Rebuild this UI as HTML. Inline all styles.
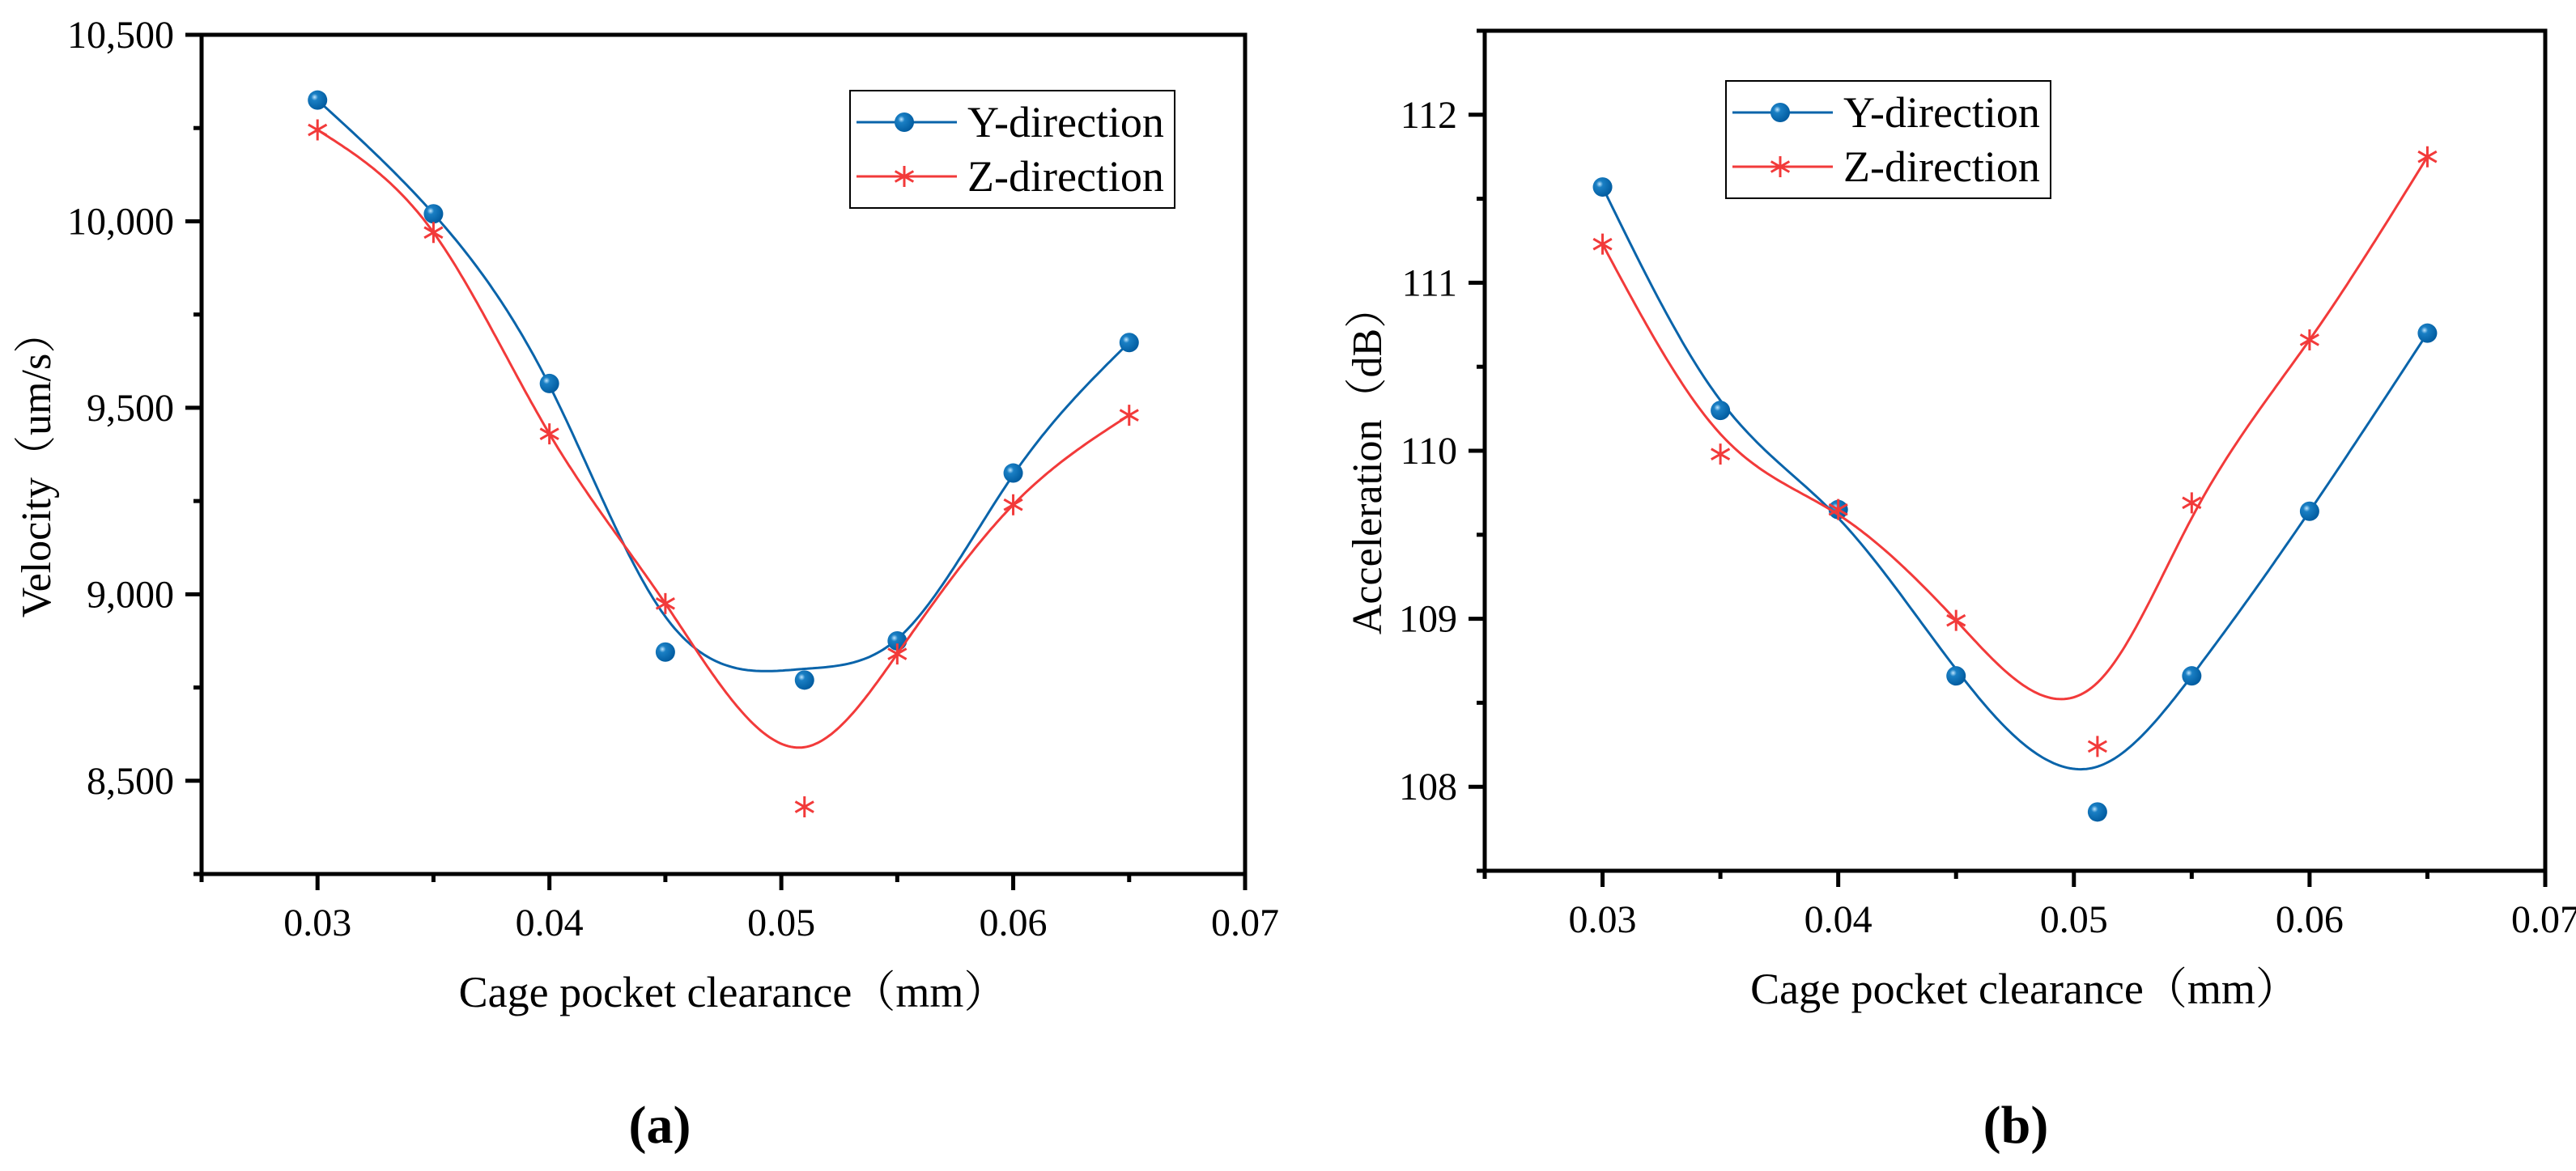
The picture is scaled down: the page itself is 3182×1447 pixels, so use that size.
<!DOCTYPE html>
<html><head><meta charset="utf-8"><style>
html,body{margin:0;padding:0;background:#fff;}
svg{display:block;font-family:"Liberation Serif","Noto Serif CJK SC",serif;}
</style></head><body>
<svg id="fig" width="3182" height="1447" viewBox="0 0 3182 1447" xmlns="http://www.w3.org/2000/svg">
<defs>
<radialGradient id="ball" cx="0.35" cy="0.35" r="0.7">
<stop offset="0" stop-color="#bfe6ff"/><stop offset="0.25" stop-color="#1a7fc4"/><stop offset="1" stop-color="#005a9e"/>
</radialGradient>
</defs>
<g id="chartA"></g>
<g id="chartB"></g>
<text x="815" y="1412" font-size="66" font-weight="bold" text-anchor="middle">(a)</text>
<text x="2490" y="1412" font-size="66" font-weight="bold" text-anchor="middle">(b)</text>
</svg>
<script>
// Shared categories
const xValues = [0.03, 0.035, 0.04, 0.045, 0.051, 0.055, 0.06, 0.065];
const xTicks = [0.03, 0.04, 0.05, 0.06, 0.07];
const xTickLabels = ["0.03", "0.04", "0.05", "0.06", "0.07"];
// Chart (a) velocity
const velY = [10325, 10020, 9565, 8845, 8770, 8875, 9325, 9675];
const velZ = [10245, 9970, 9430, 8975, 8430, 8840, 9240, 9480];
const velYFit = [10325, 10020, 9560, 8940, 8800, 8880, 9320, 9675];
const velZFit = [10245, 9970, 9430, 8975, 8590, 8840, 9240, 9480];
const velTicks = [8500, 9000, 9500, 10000, 10500];
const velTickLabels = ["8,500", "9,000", "9,500", "10,000", "10,500"];
// Chart (b) acceleration
const accY = [111.57, 110.24, 109.65, 108.66, 107.85, 108.66, 109.64, 110.70];
const accZ = [111.23, 109.98, 109.65, 108.99, 108.24, 109.69, 110.66, 111.75];
const accYFit = [111.57, 110.30, 109.60, 108.70, 108.12, 108.66, 109.64, 110.70];
const accZFit = [111.23, 110.10, 109.62, 108.99, 108.62, 109.60, 110.66, 111.75];
const accTicks = [108, 109, 110, 111, 112];
const accTickLabels = ["108", "109", "110", "111", "112"];

const NS = "http://www.w3.org/2000/svg";
function mk(parent, tag, attrs) {
  const e = document.createElementNS(NS, tag);
  for (const k in attrs) e.setAttribute(k, attrs[k]);
  parent.appendChild(e);
  return e;
}
function spline(xs, ys) {
  const n = xs.length, h = [], a = [], l = [1], mu = [0], z = [0], c = new Array(n).fill(0), b = [], d = [];
  for (let i = 0; i < n - 1; i++) h.push(xs[i + 1] - xs[i]);
  for (let i = 1; i < n - 1; i++) a[i] = 3 / h[i] * (ys[i + 1] - ys[i]) - 3 / h[i - 1] * (ys[i] - ys[i - 1]);
  for (let i = 1; i < n - 1; i++) {
    l[i] = 2 * (xs[i + 1] - xs[i - 1]) - h[i - 1] * mu[i - 1];
    mu[i] = h[i] / l[i];
    z[i] = (a[i] - h[i - 1] * z[i - 1]) / l[i];
  }
  for (let j = n - 2; j >= 0; j--) {
    if (j > 0) c[j] = z[j] - mu[j] * c[j + 1]; else c[j] = 0;
    b[j] = (ys[j + 1] - ys[j]) / h[j] - h[j] * (c[j + 1] + 2 * c[j]) / 3;
    d[j] = (c[j + 1] - c[j]) / (3 * h[j]);
  }
  return function (x) {
    let i = 0;
    while (i < n - 2 && x > xs[i + 1]) i++;
    const dx = x - xs[i];
    return ys[i] + b[i] * dx + c[i] * dx * dx + d[i] * dx * dx * dx;
  };
}
function drawChart(g, cfg) {
  const sx = v => cfg.L + (v - 0.025) / 0.045 * (cfg.R - cfg.L);
  const sy = v => cfg.B - (v - cfg.ymin) / (cfg.ymax - cfg.ymin) * (cfg.B - cfg.T);
  const fr = mk(g, "rect", {x: cfg.L, y: cfg.T, width: cfg.R - cfg.L, height: cfg.B - cfg.T, fill: "none", stroke: "#000", "stroke-width": 5});
  
  
  for (let v = 0.025; v <= 0.0701; v += 0.005) {
    const major = Math.abs(v * 100 - Math.round(v * 100)) < 1e-6;
    const t = mk(g, "line", {x1: sx(v), x2: sx(v), y1: cfg.B, y2: cfg.B + (major ? 20 : 10), stroke: "#000", "stroke-width": 5});
    
    
  }
  xTicks.forEach((v, i) => {
    const t = mk(g, "text", {x: sx(v), y: cfg.B + 76, "font-size": 48, "text-anchor": "middle"});
    t.textContent = xTickLabels[i];
    
    
  });
  const step = cfg.ticks[1] - cfg.ticks[0];
  for (let v = cfg.ymin; v <= cfg.ymax + 1e-9; v += step / 2) {
    const major = cfg.ticks.some(tv => Math.abs(tv - v) < 1e-6);
    const t = mk(g, "line", {x1: cfg.L - (major ? 20 : 10), x2: cfg.L, y1: sy(v), y2: sy(v), stroke: "#000", "stroke-width": 5});
    
    
  }
  cfg.ticks.forEach((v, i) => {
    const t = mk(g, "text", {x: cfg.L - 34, y: sy(v) + 16, "font-size": 48, "text-anchor": "end"});
    t.textContent = cfg.tickLabels[i];
    
    
  });
  const xt = mk(g, "text", {x: (cfg.L + cfg.R) / 2 + 12, y: cfg.B + 164, "font-size": 54, "text-anchor": "middle"});
  xt.textContent = "Cage pocket clearance（mm）";
  
  
  const yt = mk(g, "text", {x: 0, y: 0, "font-size": 52, "text-anchor": "middle", transform: `translate(${cfg.ytx},${cfg.tyc}) rotate(-90)`});
  yt.textContent = cfg.ytitle;
  
  
  const series = [
    {fit: cfg.yFit, pts: cfg.yVals, color: "#0a64aa", marker: "ball", name: "y-direction"},
    {fit: cfg.zFit, pts: cfg.zVals, color: "#f23a3a", marker: "star", name: "z-direction"}
  ];
  series.forEach(s => {
    const f = spline(xValues, s.fit);
    let d = "";
    for (let k = 0; k <= 300; k++) {
      const x = xValues[0] + (xValues[xValues.length - 1] - xValues[0]) * k / 300;
      d += (k ? "L" : "M") + sx(x).toFixed(1) + "," + sy(f(x)).toFixed(1);
    }
    const p = mk(g, "path", {d: d, fill: "none", stroke: s.color, "stroke-width": 3});
    
    
    s.pts.forEach((v, i) => drawMarker(g, s, sx(xValues[i]), sy(v), 'point'));
  });
  const lg = mk(g, "g", {});
  
  
  mk(lg, "rect", {x: cfg.lx, y: cfg.ly, width: 401, height: 145, fill: "#fff", stroke: "#000", "stroke-width": 2});
  series.forEach((s, i) => {
    const cy = cfg.ly + 39 + i * 67;
    const ln = mk(lg, "line", {x1: cfg.lx + 8, x2: cfg.lx + 132, y1: cy, y2: cy, stroke: s.color, "stroke-width": 3});
    
    
    drawMarker(lg, s, cfg.lx + 67, cy, 'legend-marker');
    const t = mk(lg, "text", {x: cfg.lx + 145, y: cy + 18, "font-size": 54});
    t.textContent = i === 0 ? "Y-direction" : "Z-direction";
    
    
  });
}
function drawMarker(g, s, x, y, nm) {
  if (s.marker === "ball") {
    const c = mk(g, "circle", {cx: x, cy: y, r: 12, fill: "url(#ball)"});
    
    
  } else {
    const r = 13, d = 13 * 0.87, e = 13 * 0.5;
    const p = mk(g, "path", {d: `M${x},${y - r}V${y + r}M${x - d},${y - e}L${x + d},${y + e}M${x - d},${y + e}L${x + d},${y - e}`, stroke: s.color, "stroke-width": 3, fill: "none"});
    
    
  }
}
drawChart(document.getElementById("chartA"), {
  L: 249, R: 1538, T: 43, B: 1080, ymin: 8250, ymax: 10500,
  ticks: velTicks, tickLabels: velTickLabels,
  yVals: velY, zVals: velZ, yFit: velYFit, zFit: velZFit,
  ytitle: "Velocity（um/s）", ytx: 62, tyc: 574, lx: 1050, ly: 112
});
drawChart(document.getElementById("chartB"), {
  L: 1834, R: 3144, T: 38, B: 1076, ymin: 107.5, ymax: 112.5,
  ticks: accTicks, tickLabels: accTickLabels,
  yVals: accY, zVals: accZ, yFit: accYFit, zFit: accZFit,
  ytitle: "Acceleration（dB）", ytx: 1706, tyc: 569, lx: 2132, ly: 100
});
</script>
</body></html>
